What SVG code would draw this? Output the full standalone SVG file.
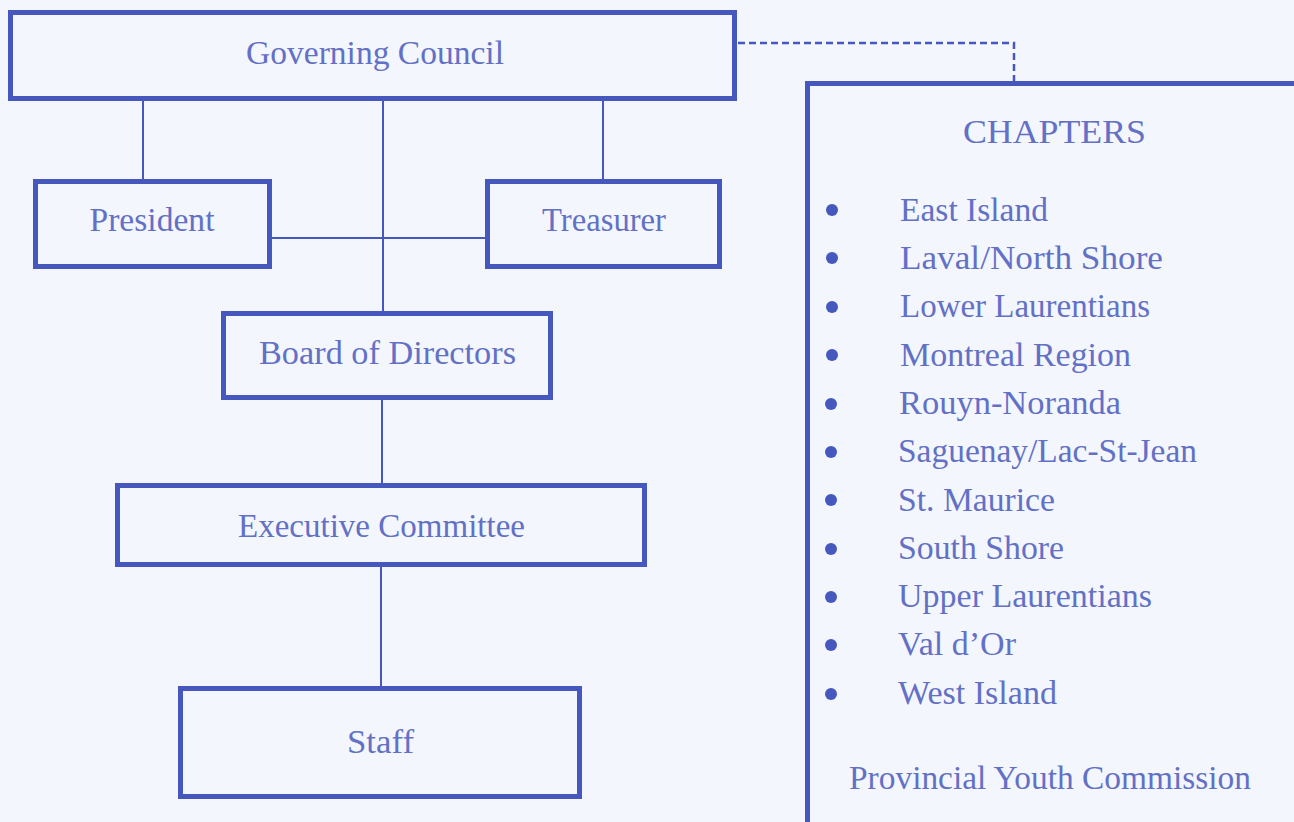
<svg xmlns="http://www.w3.org/2000/svg" width="1294" height="822" viewBox="0 0 1294 822">
<style>
.box{fill:none;stroke:#4657bd;stroke-width:5}
.ln{fill:none;stroke:#4657bd;stroke-width:2}
.dash{fill:none;stroke:#4657bd;stroke-width:2.5;stroke-dasharray:7 4}
.t{font-family:"Liberation Serif","Times New Roman",serif;fill:#6270c6;font-size:34px}
.c{text-anchor:middle}
.b{fill:#4657bd}
</style>
<rect x="0" y="0" width="1294" height="822" fill="#f3f6fc"/>
<g id="connectors">
<line class="ln" x1="143" y1="99" x2="143" y2="180"/>
<line class="ln" x1="603" y1="99" x2="603" y2="180"/>
<line class="ln" x1="383" y1="99" x2="383" y2="312"/>
<line class="ln" x1="270" y1="238" x2="487" y2="238"/>
<line class="ln" x1="382" y1="398" x2="382" y2="484"/>
<line class="ln" x1="381" y1="565" x2="381" y2="687"/>
<polyline class="dash" points="738,43 1014,43 1014,82"/>
</g>
<g id="governing-council">
<rect class="box" x="10.5" y="12.5" width="724" height="86"/>
<text class="t c" x="375" y="64" textLength="258" lengthAdjust="spacingAndGlyphs">Governing Council</text>
</g>
<g id="president">
<rect class="box" x="35.5" y="181.5" width="234" height="85"/>
<text class="t c" x="152" y="231" textLength="125" lengthAdjust="spacingAndGlyphs">President</text>
</g>
<g id="treasurer">
<rect class="box" x="487.5" y="181.5" width="232" height="85"/>
<text class="t c" x="604" y="231" textLength="124" lengthAdjust="spacingAndGlyphs">Treasurer</text>
</g>
<g id="board">
<rect class="box" x="223.5" y="313.5" width="327" height="84"/>
<text class="t c" x="387.5" y="364" textLength="257" lengthAdjust="spacingAndGlyphs">Board of Directors</text>
</g>
<g id="executive">
<rect class="box" x="117.5" y="485.5" width="527" height="79"/>
<text class="t c" x="381.5" y="537" textLength="287" lengthAdjust="spacingAndGlyphs">Executive Committee</text>
</g>
<g id="staff">
<rect class="box" x="180.5" y="688.5" width="399" height="108"/>
<text class="t c" x="380.5" y="753" textLength="67" lengthAdjust="spacingAndGlyphs">Staff</text>
</g>
<g id="chapters">
<rect class="box" x="807.5" y="83.5" width="500" height="760"/>
<text class="t c" x="1054.5" y="143" textLength="183" lengthAdjust="spacingAndGlyphs">CHAPTERS</text>
<circle class="b" cx="832" cy="210" r="6"/>
<circle class="b" cx="832" cy="258" r="6"/>
<circle class="b" cx="832" cy="307" r="6"/>
<circle class="b" cx="832" cy="355" r="6"/>
<circle class="b" cx="831" cy="404" r="6"/>
<circle class="b" cx="831" cy="452" r="6"/>
<circle class="b" cx="831" cy="500" r="6"/>
<circle class="b" cx="831" cy="549" r="6"/>
<circle class="b" cx="831" cy="597" r="6"/>
<circle class="b" cx="831" cy="645" r="6"/>
<circle class="b" cx="831" cy="694" r="6"/>
<text class="t" x="900" y="221" textLength="148" lengthAdjust="spacingAndGlyphs">East Island</text>
<text class="t" x="900" y="269" textLength="263" lengthAdjust="spacingAndGlyphs">Laval/North Shore</text>
<text class="t" x="900" y="317" textLength="250" lengthAdjust="spacingAndGlyphs">Lower Laurentians</text>
<text class="t" x="900" y="366" textLength="231" lengthAdjust="spacingAndGlyphs">Montreal Region</text>
<text class="t" x="899" y="414" textLength="222" lengthAdjust="spacingAndGlyphs">Rouyn-Noranda</text>
<text class="t" x="898" y="462" textLength="299" lengthAdjust="spacingAndGlyphs">Saguenay/Lac-St-Jean</text>
<text class="t" x="898" y="511" textLength="157" lengthAdjust="spacingAndGlyphs">St. Maurice</text>
<text class="t" x="898" y="559" textLength="166" lengthAdjust="spacingAndGlyphs">South Shore</text>
<text class="t" x="898" y="607" textLength="254" lengthAdjust="spacingAndGlyphs">Upper Laurentians</text>
<text class="t" x="898" y="655" textLength="118" lengthAdjust="spacingAndGlyphs">Val d’Or</text>
<text class="t" x="898" y="704" textLength="159" lengthAdjust="spacingAndGlyphs">West Island</text>
<text class="t" x="849" y="789" textLength="402" lengthAdjust="spacingAndGlyphs">Provincial Youth Commission</text>
</g>
</svg>
